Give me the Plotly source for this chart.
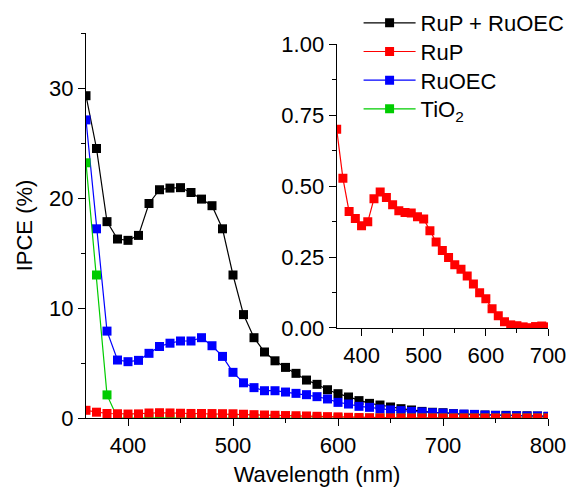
import plotly.graph_objects as go

wavelength = list(range(360, 801, 10))

ipce_rup_ruoec = [29.3, 24.5, 17.85, 16.27, 16.15, 16.6, 19.5, 20.75, 20.9, 20.94,
                  20.5, 19.9, 19.3, 17.2, 13.0, 9.4, 7.3, 6.0, 5.2, 4.6,
                  4.06, 3.45, 3.06, 2.57, 2.21, 1.91, 1.58, 1.33, 1.18, 1.0,
                  0.85, 0.73, 0.6, 0.52, 0.48, 0.39, 0.33, 0.3, 0.27, 0.24,
                  0.24, 0.2, 0.2, 0.18, 0.15]

ipce_ruoec = [27.1, 17.2, 7.9, 5.27, 5.12, 5.24, 5.88, 6.5, 6.8, 7.0,
              7.0, 7.3, 6.57, 5.6, 4.15, 3.2, 2.76, 2.48, 2.48, 2.36,
              2.24, 2.12, 1.94, 1.73, 1.42, 1.27, 1.06, 0.97, 0.82, 0.73,
              0.67, 0.6, 0.55, 0.48, 0.45, 0.39, 0.36, 0.33, 0.27, 0.24,
              0.21, 0.2, 0.18, 0.18, 0.15]

ipce_tio2 = [23.2, 13.0, 2.1] + [0.0] * 42

ipce_rup = [0.70, 0.528, 0.41, 0.386, 0.36, 0.374, 0.455, 0.479, 0.46, 0.434,
            0.413, 0.407, 0.405, 0.392, 0.384, 0.343, 0.303, 0.273, 0.248, 0.223,
            0.207, 0.183, 0.155, 0.124, 0.103, 0.068, 0.043, 0.022, 0.011, 0.008,
            0.004, 0.001, 0.005, 0.007, 0.004, 0.003, 0.003, 0.002, 0.002, 0.002,
            0.002, 0.001, 0.001, 0.001, 0.001]

inset_wavelength = wavelength[:35]
inset_rup = ipce_rup[:35]

FONT = "Arial, 'Liberation Sans', sans-serif"
BLACK, RED, BLUE, GREEN = "#000000", "#ff0000", "#0000ff", "#00cc00"

fig = go.Figure()

def add(x, y, name, color, legend_id, xa="x", ya="y", show=True):
    fig.add_trace(go.Scatter(
        x=x, y=y, name=name, mode="lines+markers",
        line=dict(color=color, width=1.2),
        marker=dict(symbol="square", size=9, color=color, line=dict(width=0)),
        xaxis=xa, yaxis=ya, showlegend=show, legend=legend_id,
    ))

add(wavelength, ipce_rup_ruoec, "RuP + RuOEC", BLACK, "legend")
add(wavelength, ipce_ruoec, "RuOEC", BLUE, "legend3")
add(wavelength, ipce_tio2, "TiO<sub>2</sub>", GREEN, "legend4")
add(wavelength, ipce_rup, "RuP", RED, "legend2")
add(inset_wavelength, inset_rup, "RuP inset", RED, "legend2", "x2", "y2", False)

axis_common = dict(
    showline=True, linecolor="black", linewidth=1.3, mirror=False,
    ticks="outside", ticklen=7, tickwidth=1.3, tickcolor="black",
    showgrid=False, zeroline=False, automargin=False,
    tickfont=dict(family=FONT, size=22, color="black"),
)
minor_common = dict(ticks="outside", ticklen=4, tickcolor="black", tickwidth=1.3)

legend_x = 0.590
legend_y0 = 1.0805
legend_step = 0.0745
legend_common = dict(xanchor="left", yanchor="top", bgcolor="rgba(0,0,0,0)",
                     font=dict(family=FONT, size=22), itemwidth=52)

fig.update_layout(
    width=569, height=488,
    margin=dict(l=86, r=21, t=33, b=70, autoexpand=False),
    paper_bgcolor="white", plot_bgcolor="white",
    font=dict(family=FONT, size=22, color="black"),
    showlegend=True,
    legend=dict(x=legend_x, y=legend_y0, **legend_common),
    legend2=dict(x=legend_x, y=legend_y0 - legend_step, **legend_common),
    legend3=dict(x=legend_x, y=legend_y0 - 2 * legend_step, **legend_common),
    legend4=dict(x=legend_x, y=legend_y0 - 3 * legend_step, **legend_common),
    xaxis=dict(range=[360, 800], dtick=100, tick0=400,
               minor=dict(dtick=50, **minor_common),
               title=dict(text="Wavelength (nm)", standoff=10,
                          font=dict(family=FONT, size=22)),
               **axis_common),
    yaxis=dict(range=[0, 35], dtick=10, tick0=0,
               minor=dict(dtick=5, **minor_common),
               title=dict(text="IPCE (%)", standoff=10,
                          font=dict(family=FONT, size=22)),
               **axis_common),
    xaxis2=dict(domain=[0.5426, 1.0], anchor="y2", range=[360, 700], dtick=100, tick0=400,
                minor=dict(dtick=50, **minor_common),
                **axis_common),
    yaxis2=dict(domain=[0.2338, 0.971], anchor="x2", range=[0, 1], dtick=0.25, tick0=0,
                tickformat=".2f",
                minor=dict(dtick=0.125, **minor_common),
                **axis_common),
)

fig.write_html("out.html")
